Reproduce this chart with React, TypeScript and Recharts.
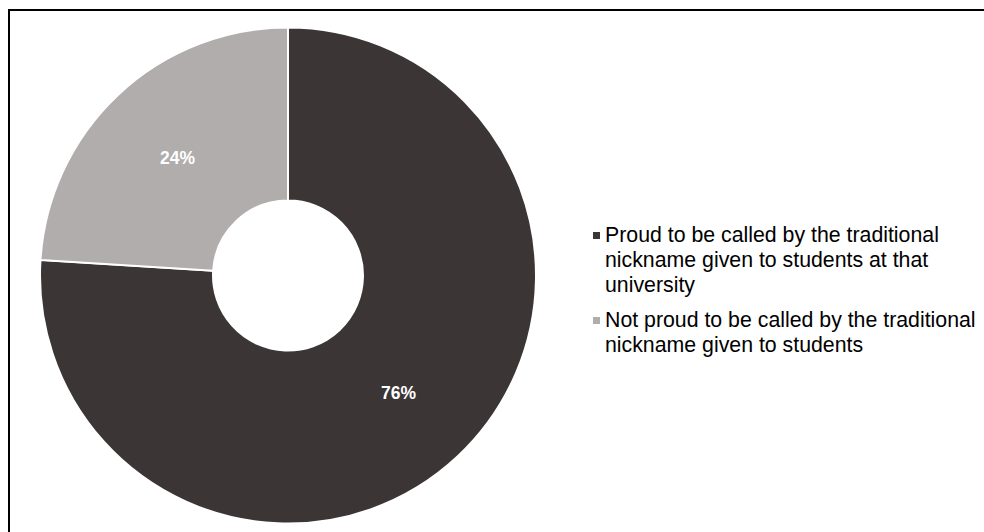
import React from "react";
import { PieChart, Pie, Cell, Legend } from "recharts";

const categories = [
  "Proud to be called by the traditional nickname given to students at that university",
  "Not proud to be called by the traditional nickname given to students",
];
const values = [76, 24];
const colors = ["#3b3536", "#b2adad"];

const data = categories.map((name, i) => ({ name, value: values[i] }));

const FONT = "'Liberation Sans', Arial, Helvetica, sans-serif";
const RAD = Math.PI / 180;

const renderLabel = (props: any) => {
  const { cx, cy, midAngle, innerRadius, outerRadius, value } = props;
  const r = (innerRadius + outerRadius) / 2;
  const x = cx + r * Math.cos(-midAngle * RAD);
  const y = cy + r * Math.sin(-midAngle * RAD);
  return (
    <text
      x={x}
      y={y}
      fill="#ffffff"
      fontFamily={FONT}
      fontWeight="bold"
      fontSize={17.5}
      textAnchor="middle"
      dominantBaseline="central"
    >
      {`${value}%`}
    </text>
  );
};

const renderLegend = () => {
  return (
    <div style={{ fontFamily: FONT, fontSize: 21.3, lineHeight: "25px", color: "#000" }}>
      {data.map((entry, i) => (
        <div key={i} style={{ display: "flex", alignItems: "flex-start", marginBottom: 10 }}>
          <span
            style={{
              display: "inline-block",
              width: 7,
              height: 7,
              background: colors[i],
              marginTop: 9,
              marginRight: 5,
              flex: "none",
            }}
          />
          <span style={{ width: 376 }}>{entry.name}</span>
        </div>
      ))}
    </div>
  );
};

export default function App() {
  return (
    <div
      style={{
        position: "relative",
        width: 984,
        height: 532,
        overflow: "hidden",
        background: "#fff",
      }}
    >
      <style>{"html,body{margin:0;padding:0;overflow:hidden;}"}</style>
      <div
        style={{
          position: "absolute",
          left: 8,
          top: 9,
          width: 1200,
          height: 800,
          borderTop: "2px solid #000",
          borderLeft: "2px solid #000",
        }}
      />
      <PieChart
        width={984}
        height={532}
        margin={{ top: 0, right: 0, bottom: 0, left: 0 }}
        style={{ position: "absolute", left: 0, top: 0 }}
      >
        <Pie
          data={data}
          dataKey="value"
          nameKey="name"
          cx={288}
          cy={275.5}
          innerRadius={75}
          outerRadius={248}
          startAngle={90}
          endAngle={-270}
          stroke="#ffffff"
          strokeWidth={2}
          label={renderLabel}
          labelLine={false}
          isAnimationActive={false}
        >
          {data.map((d, i) => (
            <Cell key={i} fill={colors[i]} />
          ))}
        </Pie>
        <Legend
          layout="vertical"
          content={renderLegend}
          wrapperStyle={{ position: "absolute", left: 593, top: 222.5, width: 391 }}
        />
      </PieChart>
    </div>
  );
}
